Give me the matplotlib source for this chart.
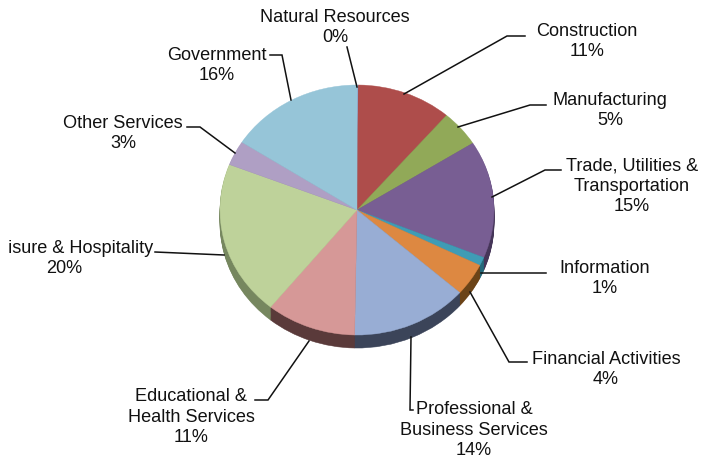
import numpy as np
import matplotlib
matplotlib.use("Agg")
import matplotlib.pyplot as plt
from matplotlib.patches import Rectangle

plt.rcParams['font.family'] = ['Liberation Sans', 'DejaVu Sans']

sectors = ['Natural Resources', 'Construction', 'Manufacturing',
           'Trade, Utilities &\nTransportation', 'Information', 'Financial Activities',
           'Professional &\nBusiness Services', 'Educational &\nHealth Services',
           'Leisure & Hospitality', 'Other Services', 'Government']
shares = [0.15, 11.2, 4.7, 15.2, 1.1, 4.2, 13.8, 10.6, 20.1, 3.2, 15.9]
share_labels = ['0%', '11%', '5%', '15%', '1%', '4%', '14%', '11%', '20%', '3%', '16%']

top_colors = ['#8FA9CF', '#AE4D4B', '#91A958', '#785E93', '#3F9CB5', '#DD8841',
              '#98ADD4', '#D69897', '#BED29A', '#AF9FC4', '#96C5D8']
wall_colors = ['#4A5A70', '#5E2D2C', '#5C6C38', '#453558', '#25687A', '#6B4317',
               '#3B4459', '#5A3A3A', '#76875F', '#6A5F78', '#5E8090']

# label layout in image pixels: x, y of text centre, alignment
label_pos = [(335, 27.5, 'center'), (587, 41.5, 'center'), (610, 110.5, 'center'),
             (632, 186, 'center'), (605, 278.5, 'center'), (606, 369.5, 'center'),
             (474, 430, 'center'), (191, 417, 'center'), (153, 258, 'right'),
             (123, 133.5, 'center'), (217, 65.5, 'center')]
leaders = [[(347, 47), (357, 87)],
           [(525, 36), (507, 36), (404, 94)],
           [(546, 105), (530, 105), (458, 127)],
           [(561, 170), (545, 170), (492, 197)],
           [(546, 273), (481, 273)],
           [(527, 362), (509, 362), (470, 292)],
           [(413, 410), (410, 410), (411, 337)],
           [(255, 400), (268, 400), (309, 341)],
           [(155, 252), (224, 255)],
           [(187, 127), (200, 127), (235, 153)],
           [(270, 55), (282, 55), (291, 100)]]

W, H = 701, 461
cx, cy, rx, ry, depth = 357, 210, 137, 125, 13
label_size = 13.1
ink = '#111111'


def draw_pie(target, colors, offset, lw):
    wedges, _ = target.pie(shares, colors=colors, startangle=90, counterclock=False,
                           center=(0, -offset), radius=1)
    for w, c in zip(wedges, colors):
        w.set_edgecolor(c)
        w.set_linewidth(lw)


fig = plt.figure(figsize=(W / 100, H / 100), dpi=100, facecolor='white')

# pie axes is stretched so the unit circle lands on the tilted ellipse
pie_ax = fig.add_axes([(cx - 1.2 * rx) / W, 1 - (cy + 1.2 * ry) / H,
                       2.4 * rx / W, 2.4 * ry / H])
for dy in np.linspace(depth / ry, 0.01, 14):
    draw_pie(pie_ax, wall_colors, dy, 0.4)
draw_pie(pie_ax, top_colors, 0, 0.3)
pie_ax.set_aspect('auto')
pie_ax.set_xlim(-1.2, 1.2)
pie_ax.set_ylim(-1.2, 1.2)
pie_ax.axis('off')

# overlay in pixel coordinates for labels and leader lines
ax = fig.add_axes([0, 0, 1, 1])
ax.set_xlim(0, W)
ax.set_ylim(H, 0)
ax.axis('off')
ax.patch.set_alpha(0)

for pts in leaders:
    xs, ys = zip(*pts)
    ax.plot(xs, ys, color=ink, lw=1.1, solid_joinstyle='miter')

# the long label runs off the chart area on the left in the original
clip = Rectangle((8, 0), W, H, transform=ax.transData)
for name, pct, (x, y, ha) in zip(sectors, share_labels, label_pos):
    if ha == 'right':
        t = ax.text(x, y - 10, name, ha='right', va='center', fontsize=label_size, color=ink)
        t.set_clip_path(clip)
        t.set_clip_on(True)
        ax.text(64, y + 10, pct, ha='center', va='center', fontsize=label_size, color=ink)
    else:
        ax.text(x, y, name + '\n' + pct, ha='center', va='center', fontsize=label_size,
                color=ink, linespacing=1.24)

fig.savefig('out.png', dpi=100)
